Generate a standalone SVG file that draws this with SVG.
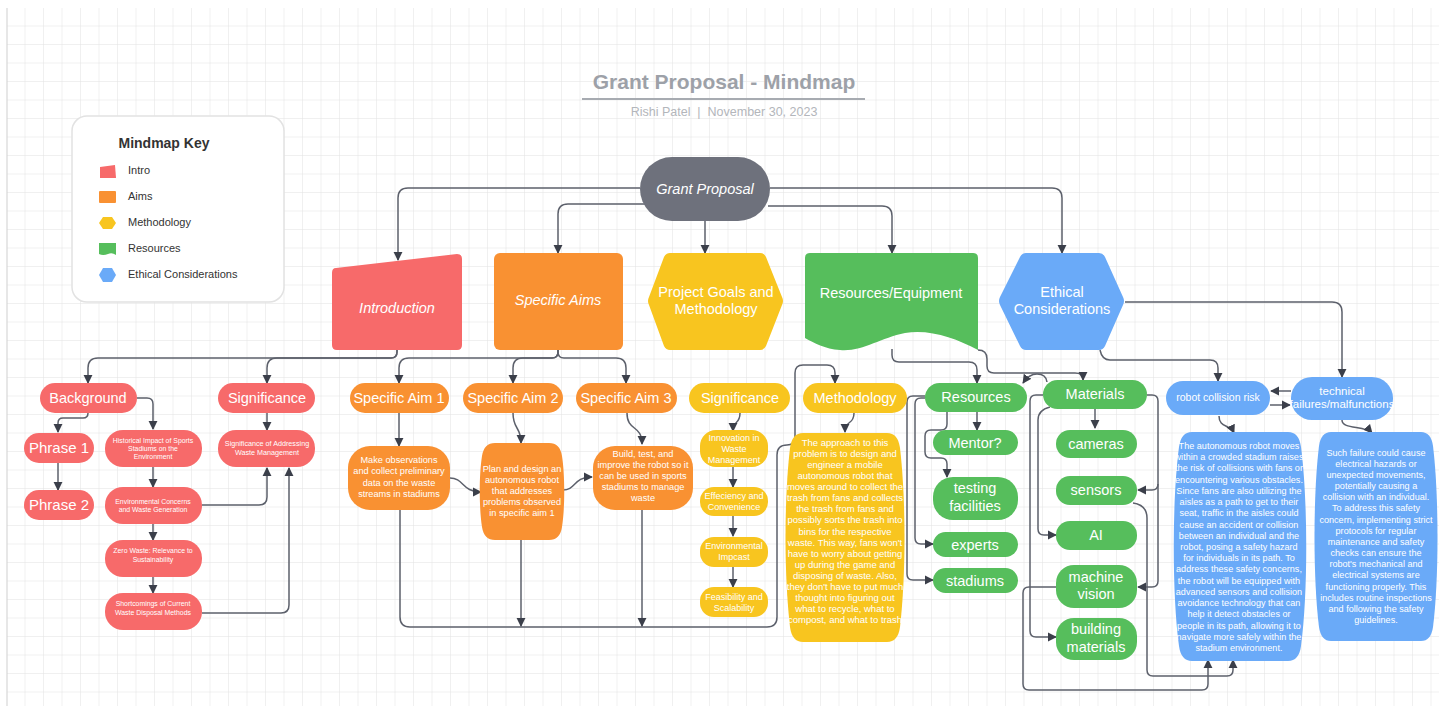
<svg xmlns="http://www.w3.org/2000/svg" width="1439" height="711" viewBox="0 0 1439 711">
<defs>
<pattern id="grid" width="18.5" height="18.5" patternUnits="userSpaceOnUse" x="7" y="8"><path d="M18.5,0 V18.5 H0" fill="none" stroke="#e2e2e2" stroke-width="1"/></pattern>
<marker id="arr" viewBox="0 0 10 10" refX="9" refY="5" markerWidth="9" markerHeight="10" markerUnits="userSpaceOnUse" orient="auto"><path d="M0,0 L10,5 L0,10 Z" fill="#3b3f4a"/></marker>
<style>
.c{fill:none;stroke:#5c606b;stroke-width:1.5;marker-end:url(#arr)}
.red{fill:#f76a6a}.org{fill:#f99132}.yel{fill:#f8c51f}.grn{fill:#56be5c}.blu{fill:#6aaaf8}.gry{fill:#6e717c}
text{font-family:"Liberation Sans",Arial,sans-serif;fill:#fff;text-anchor:middle}
.h{font-size:14.5px}.hi{font-size:14.5px;font-style:italic}
.s{font-size:9.2px}.y{font-size:9px}.xs{font-size:6.9px}.b{font-size:9.5px}.bl{font-size:9.1px}
.k{fill:#333;text-anchor:start;font-size:11px}
</style>
</defs>
<rect x="0" y="0" width="1439" height="711" fill="#fff"/>
<rect x="7" y="8" width="1432" height="698" fill="url(#grid)"/>
<line x1="7" y1="8" x2="7" y2="706" stroke="#cfcfcf" stroke-width="1"/>

<g id="title">
<text x="724" y="89" style="font-size:21px;font-weight:bold;fill:#9da1a8">Grant Proposal - Mindmap</text>
<line x1="582" y1="99" x2="865" y2="99" stroke="#a7abb1" stroke-width="2"/>
<text x="724" y="116" style="font-size:12.5px;fill:#b3b6bb">Rishi Patel&#160;&#160;|&#160;&#160;November 30, 2023</text>
</g>

<g id="key">
<rect x="72" y="116" width="212" height="186" rx="15" fill="#fff" stroke="#e2e2e2" stroke-width="1.5"/>
<text x="164" y="148" style="font-size:14px;font-weight:bold;fill:#333">Mindmap Key</text>
<path d="M100,167 L115,165 L116,178 L100,178 Z" class="red"/>
<rect x="99" y="191" width="17" height="12" rx="1" class="org"/>
<path d="M103,217 L112,217 L116,223 L112,229 L103,229 L99,223 Z" class="yel"/>
<path d="M99,243 H116 V255 Q112,252 108,254 Q103,256 99,254 Z" class="grn"/>
<path d="M103,268 L112,268 L116,275 L112,282 L103,282 L99,275 Z" class="blu"/>
<text x="128" y="174" class="k">Intro</text>
<text x="128" y="200" class="k">Aims</text>
<text x="128" y="226" class="k">Methodology</text>
<text x="128" y="252" class="k">Resources</text>
<text x="128" y="278" class="k">Ethical Considerations</text>
</g>

<g id="connectors">
<path class="c" d="M640,188 H408 Q398,188 398,198 V260"/>
<path class="c" d="M645,204 H568 Q558,204 558,214 V253"/>
<path class="c" d="M705,221 V253"/>
<path class="c" d="M768,206 H882 Q892,206 892,216 V253"/>
<path class="c" d="M770,188 H1052 Q1062,188 1062,198 V253"/>
<path class="c" d="M397,350 V352 Q397,358 391,358 H98 Q88,358 88,368 V383"/>
<path class="c" d="M397,350 V352 Q397,358 391,358 H277 Q267,358 267,368 V383"/>
<path class="c" d="M558,350 V352 Q558,358 552,358 H409 Q399,358 399,368 V383"/>
<path class="c" d="M558,350 V352 Q558,358 552,358 H523 Q513,358 513,368 V383"/>
<path class="c" d="M558,350 V352 Q558,358 564,358 H616 Q626,358 626,368 V383"/>
<path class="c" d="M88,413 Q88,418 83,418 H63 Q58,418 58,423 V432"/>
<path class="c" d="M137,398 H147 Q153,398 153,404 V429"/>
<path class="c" d="M58,463 V490"/>
<path class="c" d="M153,467 V487"/>
<path class="c" d="M153,524 V540"/>
<path class="c" d="M153,577 V593"/>
<path class="c" d="M267,413 V430"/>
<path class="c" d="M202,505 H259 Q267,505 267,497 V468"/>
<path class="c" d="M202,613 H281 Q289,613 289,605 V468"/>
<path class="c" d="M399,413 V446"/>
<path class="c" d="M513,413 C513,430 521,426 521,443"/>
<path class="c" d="M627,413 C627,432 642,424 642,444"/>
<path class="c" d="M450,478 C464,478 462,492 481,492"/>
<path class="c" d="M563,490 C576,490 573,477 592,477"/>
<path class="c" d="M400,510 V617 Q400,627 410,627 H767 Q777,627 777,617 V455 Q777,445 787,445 Q795,445 795,437 V373 Q795,365 803,365 H827 Q835,365 835,373 V383"/>
<path class="c" d="M521,540 V626"/>
<path class="c" d="M642,510 V626"/>
<path class="c" d="M740,413 C740,425 733,420 733,431"/>
<path class="c" d="M733,467 V487"/>
<path class="c" d="M733,515 V536"/>
<path class="c" d="M733,567 V587"/>
<path class="c" d="M854,413 C854,425 845,420 845,432"/>
<path class="c" d="M892,349 V355 Q892,362 899,362 H969 Q977,362 977,370 V383"/>
<path class="c" d="M978,350 Q987,350 987,359 V366 Q987,373 994,373 H1075 Q1083,373 1083,379 V380"/>
<path class="c" d="M1047,382 Q1046,374 1037,374 Q1029,374 1023,383"/>
<path class="c" d="M977,412 V430"/>
<path class="c" d="M947,412 V424 Q947,430 941,430 H931 Q925,430 925,436 V452 Q925,458 931,458 H941 Q947,458 947,464 V477"/>
<path class="c" d="M925,398 H921 Q915,398 915,404 V538 Q915,544 921,544 H933"/>
<path class="c" d="M925,396 H913 Q907,396 907,402 V574 Q907,580 913,580 H933"/>
<path class="c" d="M1095,409 V428"/>
<path class="c" d="M1050,407 Q1038,410 1038,420 V529 Q1038,535 1044,535 H1056"/>
<path class="c" d="M1043,395 H1036 Q1030,395 1030,401 V631 Q1030,637 1036,637 H1056"/>
<path class="c" d="M1147,395 H1152 Q1158,395 1158,401 V484 Q1158,490 1152,490 H1138"/>
<path class="c" d="M1158,484 V581 Q1158,587 1152,587 H1138"/>
<path class="c" d="M1056,587 H1029 Q1023,587 1023,593 V684 Q1023,690 1029,690 H1202 Q1208,690 1208,684 V660"/>
<path class="c" d="M1133,503 Q1147,505 1147,518 V670 Q1147,676 1153,676 H1227 Q1233,676 1233,670 V660"/>
<path class="c" d="M1125,302 H1332 Q1342,302 1342,312 V377"/>
<path class="c" d="M1100,350 Q1102,360 1110,360 H1210 Q1218,360 1218,368 V381"/>
<path class="c" d="M1291,391 H1271"/>
<path class="c" d="M1270,405 H1290"/>
<path class="c" d="M1219,416 C1219,428 1230,424 1234,433"/>
<path class="c" d="M1342,420 C1342,430 1365,425 1372,433"/>
</g>

<g id="n-grant"><rect x="640" y="157" width="130" height="64" rx="32" class="gry"/><text x="705" y="194" class="hi">Grant Proposal</text></g>

<g id="n-intro"><path d="M336,268 L457,254 Q462,254 462,259 V345 Q462,350 457,350 H337 Q332,350 332,345 V273 Q332,268 336,268 Z" class="red"/><text x="397" y="313" class="hi">Introduction</text></g>
<g id="n-aims"><rect x="494" y="253" width="129" height="97" rx="6" class="org"/><text x="558" y="305" class="hi">Specific Aims</text></g>
<g id="n-goals"><path d="M670,253 H760 Q764,253 766,257 L782,297 Q784,301 782,305 L766,346 Q764,350 760,350 H670 Q666,350 664,346 L649,305 Q647,301 649,297 L664,257 Q666,253 670,253 Z" class="yel"/><text x="716" y="297" class="h">Project Goals and</text><text x="716" y="314" class="h">Methodology</text></g>
<g id="n-resequip"><path d="M810,253 H973 Q978,253 978,258 V350 C955,338 930,329 905,333 C880,338 862,352 840,350 C825,349 814,343 805,338 V258 Q805,253 810,253 Z" class="grn"/><text x="891" y="298" class="h">Resources/Equipment</text></g>
<g id="n-ethical"><path d="M1026,253 H1099 Q1103,253 1105,257 L1123,297 Q1125,301 1123,305 L1105,346 Q1103,350 1099,350 H1026 Q1022,350 1020,346 L1000,305 Q998,301 1000,297 L1020,257 Q1022,253 1026,253 Z" class="blu"/><text x="1062" y="297" class="h">Ethical</text><text x="1062" y="314" class="h">Considerations</text></g>

<g id="n-background"><rect x="40" y="383" width="97" height="30" rx="15" class="red"/><text x="88" y="403" class="h">Background</text></g>
<g id="n-significance1"><rect x="218" y="383" width="97" height="30" rx="15" class="red"/><text x="267" y="403" class="h">Significance</text></g>
<g id="n-phrase1"><rect x="24" y="433" width="70" height="30" rx="15" class="red"/><text x="59" y="453" style="font-size:15px">Phrase 1</text></g>
<g id="n-phrase2"><rect x="24" y="490" width="70" height="30" rx="15" class="red"/><text x="59" y="510" style="font-size:15px">Phrase 2</text></g>
<g id="n-historical"><rect x="105" y="430" width="97" height="37" rx="18" class="red"/><text x="153" y="442.5" class="xs">Historical Impact of Sports</text><text x="153" y="450.5" class="xs">Stadiums on the</text><text x="153" y="458.5" class="xs">Environment</text></g>
<g id="n-envconcerns"><rect x="105" y="487" width="97" height="37" rx="18" class="red"/><text x="153" y="503.5" class="xs">Environmental Concerns</text><text x="153" y="511.5" class="xs">and Waste Generation</text></g>
<g id="n-zerowaste"><rect x="105" y="540" width="97" height="37" rx="18" class="red"/><text x="153" y="552.5" class="xs">Zero Waste: Relevance to</text><text x="153" y="561.5" class="xs">Sustainability</text></g>
<g id="n-shortcomings"><rect x="105" y="593" width="97" height="37" rx="18" class="red"/><text x="153" y="605.5" class="xs">Shortcomings of Current</text><text x="153" y="614.5" class="xs">Waste Disposal Methods</text></g>
<g id="n-sigaddress"><rect x="218" y="430" width="97" height="37" rx="18" class="red"/><text x="267" y="445.5" style="font-size:7.2px">Significance of Addressing</text><text x="267" y="454.5" style="font-size:7.2px">Waste Management</text></g>

<g id="n-aim1"><rect x="350" y="383" width="99" height="30" rx="15" class="org"/><text x="399" y="403" class="h">Specific Aim 1</text></g>
<g id="n-aim2"><rect x="463" y="383" width="100" height="30" rx="15" class="org"/><text x="513" y="403" class="h">Specific Aim 2</text></g>
<g id="n-aim3"><rect x="576" y="383" width="101" height="30" rx="15" class="org"/><text x="626" y="403" class="h">Specific Aim 3</text></g>
<g id="n-observe"><rect x="348" y="446" width="102" height="64" rx="22" class="org"/><text x="399" y="463" class="s">Make observations</text><text x="399" y="474.3" class="s">and collect preliminary</text><text x="399" y="485.6" class="s">data on the waste</text><text x="399" y="497" class="s">streams in stadiums</text></g>
<g id="n-plan"><path d="M495,443 H549 Q560,443 562,456 C565,475 565,508 562,527 Q560,540 549,540 H495 Q484,540 482,527 C479,508 479,475 482,456 Q484,443 495,443 Z" class="org"/><text x="522" y="472" class="s">Plan and design an</text><text x="522" y="483" class="s">autonomous robot</text><text x="522" y="494" class="s">that addresses</text><text x="522" y="505" class="s">problems observed</text><text x="522" y="516" class="s">in specific aim 1</text></g>
<g id="n-build"><rect x="593" y="446" width="100" height="64" rx="22" class="org"/><text x="643" y="457" class="s">Build, test, and</text><text x="643" y="468" class="s">improve the robot so it</text><text x="643" y="479" class="s">can be used in sports</text><text x="643" y="490" class="s">stadiums to manage</text><text x="643" y="501" class="s">waste</text></g>

<g id="n-significance2"><rect x="689" y="383" width="101" height="30" rx="15" class="yel"/><text x="740" y="403" class="h">Significance</text></g>
<g id="n-innovation"><rect x="700" y="430" width="68" height="37" rx="16" class="yel"/><text x="734" y="441" class="y">Innovation in</text><text x="734" y="452" class="y">Waste</text><text x="734" y="463" class="y">Management</text></g>
<g id="n-efficiency"><rect x="700" y="487" width="68" height="29" rx="14" class="yel"/><text x="734" y="499" class="y">Effeciency and</text><text x="734" y="510" class="y">Convenience</text></g>
<g id="n-envimpact"><rect x="700" y="537" width="68" height="30" rx="14" class="yel"/><text x="734" y="549" class="y">Environmental</text><text x="734" y="560" class="y">Impcast</text></g>
<g id="n-feasibility"><rect x="700" y="587" width="68" height="30" rx="14" class="yel"/><text x="734" y="600" class="y">Feasibility and</text><text x="734" y="611" class="y">Scalability</text></g>
<g id="n-methodology"><rect x="803" y="383" width="104" height="30" rx="15" class="yel"/><text x="855" y="403" class="h">Methodology</text></g>
<g id="n-approach"><path d="M803,433 H887 Q898,433 900,448 C906,500 906,575 900,627 Q898,642 887,642 H803 Q792,642 790,627 C784,575 784,500 790,448 Q792,433 803,433 Z" class="yel"/>
<text x="845" y="446" class="b">The approach to this</text>
<text x="845" y="457" class="b">problem is to design and</text>
<text x="845" y="468.1" class="b">engineer a mobile</text>
<text x="845" y="479.2" class="b">autonomous robot that</text>
<text x="845" y="490.2" class="b">moves around to collect the</text>
<text x="845" y="501.3" class="b">trash from fans and collects</text>
<text x="845" y="512.4" class="b">the trash from fans and</text>
<text x="845" y="523.4" class="b">possibly sorts the trash into</text>
<text x="845" y="534.5" class="b">bins for the respective</text>
<text x="845" y="545.5" class="b">waste. This way, fans won't</text>
<text x="845" y="556.6" class="b">have to worry about getting</text>
<text x="845" y="567.7" class="b">up during the game and</text>
<text x="845" y="578.7" class="b">disposing of waste. Also,</text>
<text x="845" y="589.8" class="b">they don't have to put much</text>
<text x="845" y="600.8" class="b">thought into figuring out</text>
<text x="845" y="611.9" class="b">what to recycle, what to</text>
<text x="845" y="623" class="b">compost, and what to trash</text>
</g>

<g id="n-resources"><rect x="925" y="383" width="102" height="29" rx="14.5" class="grn"/><text x="976" y="402" class="h">Resources</text></g>
<g id="n-mentor"><rect x="933" y="430" width="85" height="25" rx="12.5" class="grn"/><text x="975" y="447.5" class="h">Mentor?</text></g>
<g id="n-testing"><rect x="933" y="477" width="85" height="43" rx="20" class="grn"/><text x="975" y="493" class="h">testing</text><text x="975" y="511" class="h">facilities</text></g>
<g id="n-experts"><rect x="933" y="532" width="85" height="25" rx="12.5" class="grn"/><text x="975" y="549.5" class="h">experts</text></g>
<g id="n-stadiums"><rect x="933" y="568" width="85" height="25" rx="12.5" class="grn"/><text x="975" y="585.5" class="h">stadiums</text></g>
<g id="n-materials"><rect x="1043" y="380" width="104" height="29" rx="14.5" class="grn"/><text x="1095" y="399" class="h">Materials</text></g>
<g id="n-cameras"><rect x="1056" y="430" width="81" height="28" rx="14" class="grn"/><text x="1096" y="449" class="h">cameras</text></g>
<g id="n-sensors"><rect x="1056" y="476" width="81" height="29" rx="14" class="grn"/><text x="1096" y="495" class="h">sensors</text></g>
<g id="n-ai"><rect x="1056" y="521" width="81" height="29" rx="14" class="grn"/><text x="1096" y="540" class="h">AI</text></g>
<g id="n-vision"><rect x="1056" y="565" width="81" height="43" rx="18" class="grn"/><text x="1096" y="582" class="h">machine</text><text x="1096" y="599" class="h">vision</text></g>
<g id="n-building"><rect x="1056" y="618" width="81" height="42" rx="18" class="grn"/><text x="1096" y="634" class="h">building</text><text x="1096" y="652" class="h">materials</text></g>

<g id="n-collision"><rect x="1166" y="381" width="104" height="34" rx="17" class="blu"/><text x="1218" y="401" style="font-size:10.5px">robot collision risk</text></g>
<g id="n-technical"><rect x="1291" y="377" width="102" height="43" rx="21" class="blu"/><text x="1342" y="395" style="font-size:11.5px">technical</text><text x="1342" y="408" style="font-size:11.5px">failures/malfunctions</text></g>
<g id="n-collision-text"><path d="M1192,432 H1288 Q1299,432 1301,447 C1308,500 1308,595 1301,646 Q1299,661 1288,661 H1192 Q1181,661 1179,646 C1172,595 1172,500 1179,447 Q1181,432 1192,432 Z" class="blu"/>
<text x="1239" y="449" class="bl">The autonomous robot moves</text>
<text x="1239" y="460.2" class="bl">within a crowded stadium raises</text>
<text x="1239" y="471.4" class="bl">the risk of collisions with fans or</text>
<text x="1239" y="482.7" class="bl">encountering various obstacles.</text>
<text x="1239" y="493.9" class="bl">Since fans are also utilizing the</text>
<text x="1239" y="505.1" class="bl">aisles as a path to get to their</text>
<text x="1239" y="516.3" class="bl">seat, traffic in the aisles could</text>
<text x="1239" y="527.5" class="bl">cause an accident or collision</text>
<text x="1239" y="538.8" class="bl">between an individual and the</text>
<text x="1239" y="550" class="bl">robot, posing a safety hazard</text>
<text x="1239" y="561.2" class="bl">for individuals in its path. To</text>
<text x="1239" y="572.4" class="bl">address these safety concerns,</text>
<text x="1239" y="583.6" class="bl">the robot will be equipped with</text>
<text x="1239" y="594.9" class="bl">advanced sensors and collision</text>
<text x="1239" y="606.1" class="bl">avoidance technology that can</text>
<text x="1239" y="617.3" class="bl">help it detect obstacles or</text>
<text x="1239" y="628.5" class="bl">people in its path, allowing it to</text>
<text x="1239" y="639.8" class="bl">navigate more safely within the</text>
<text x="1239" y="651" class="bl">stadium environment.</text>
</g>
<g id="n-technical-text"><path d="M1331,432 H1421 Q1431,432 1433,446 C1439,495 1439,580 1433,627 Q1431,641 1421,641 H1331 Q1321,641 1319,627 C1313,580 1313,495 1319,446 Q1321,432 1331,432 Z" class="blu"/>
<text x="1376" y="455.5" class="bl">Such failure could cause</text>
<text x="1376" y="466.7" class="bl">electrical hazards or</text>
<text x="1376" y="477.8" class="bl">unexpected movements,</text>
<text x="1376" y="489" class="bl">potentially causing a</text>
<text x="1376" y="500.2" class="bl">collision with an individual.</text>
<text x="1376" y="511.3" class="bl">To address this safety</text>
<text x="1376" y="522.5" class="bl">concern, implementing strict</text>
<text x="1376" y="533.7" class="bl">protocols for regular</text>
<text x="1376" y="544.8" class="bl">maintenance and safety</text>
<text x="1376" y="556" class="bl">checks can ensure the</text>
<text x="1376" y="567.2" class="bl">robot's mechanical and</text>
<text x="1376" y="578.3" class="bl">electrical systems are</text>
<text x="1376" y="589.5" class="bl">functioning properly. This</text>
<text x="1376" y="600.7" class="bl">includes routine inspections</text>
<text x="1376" y="611.8" class="bl">and following the safety</text>
<text x="1376" y="623" class="bl">guidelines.</text>
</g>
</svg>
